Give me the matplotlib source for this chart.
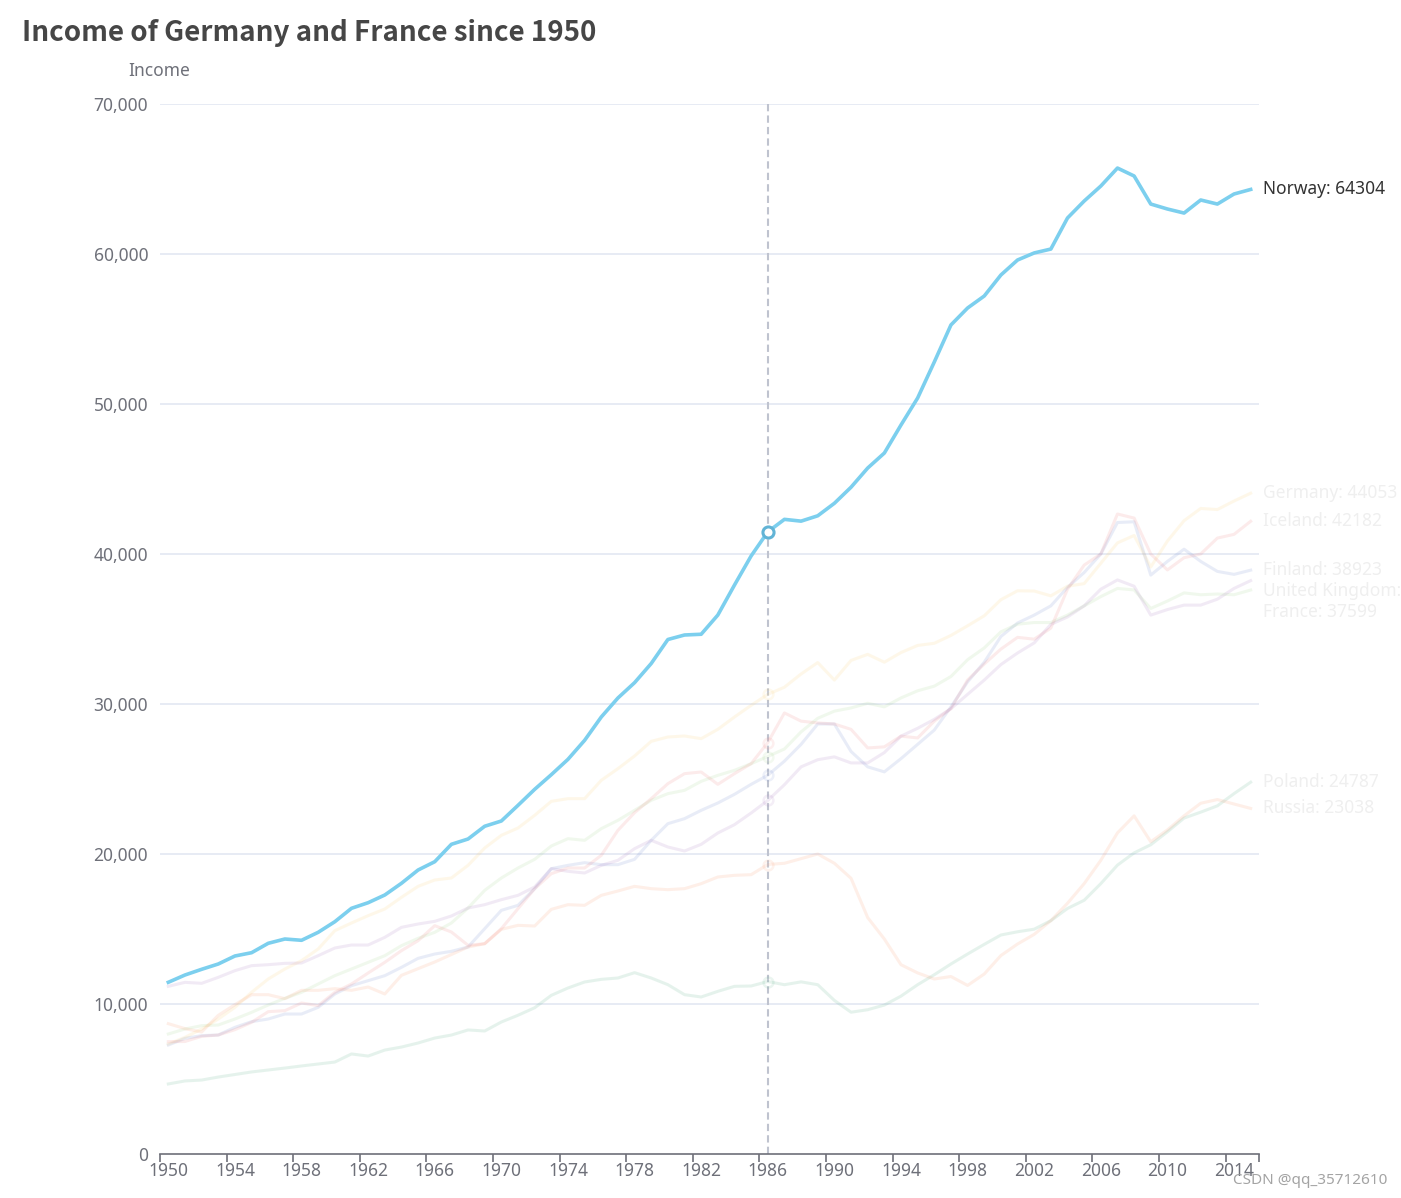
import matplotlib
matplotlib.use("Agg")
import matplotlib.pyplot as plt
import numpy as np

plt.rcParams['font.family'] = ['Noto Sans', 'DejaVu Sans']

years = list(range(1950, 2016))

norway = [11447, 11933, 12313, 12667, 13200, 13420, 14047, 14333, 14247, 14780,
          15487, 16380, 16753, 17267, 18047, 18933, 19487, 20647, 21000, 21850,
          22200, 23244, 24311, 25289, 26311, 27578, 29133, 30400, 31422, 32700,
          34300, 34600, 34650, 35930, 37930, 39870, 41476, 42310, 42190, 42548,
          43381, 44452, 45730, 46730, 48600, 50400, 52800, 55270, 56400, 57200,
          58600, 59600, 60070, 60330, 62400, 63530, 64530, 65730, 65200, 63330,
          63000, 62730, 63600, 63330, 64000, 64304]

germany = [7333, 7778, 8333, 9000, 9778, 10778, 11667, 12333, 12889, 13667,
           14889, 15400, 15889, 16333, 17111, 17844, 18267, 18400, 19245, 20400,
           21245, 21733, 22578, 23511, 23689, 23689, 24911, 25689, 26533, 27511,
           27800, 27867, 27689, 28311, 29133, 29911, 30643, 31119, 32000, 32762,
           31595, 32905, 33310, 32786, 33429, 33905, 34048, 34571, 35214, 35881,
           36952, 37548, 37531, 37210, 37852, 38025, 39383, 40741, 41235, 39136,
           40864, 42222, 43037, 42963, 43531, 44053]

iceland = [7489, 7500, 7844, 7933, 8289, 8778, 9489, 9556, 10067, 9889,
           10778, 11333, 12067, 12778, 13556, 14222, 15222, 14800, 13911, 14022,
           15022, 16356, 17689, 18689, 19067, 19067, 19911, 21578, 22756, 23689,
           24689, 25356, 25467, 24644, 25356, 26022, 27429, 29405, 28857, 28738,
           28667, 28310, 27071, 27143, 27857, 27738, 28857, 29690, 31595, 32667,
           33660, 34444, 34321, 35062, 37654, 39259, 40000, 42667, 42395, 40000,
           38938, 39753, 40000, 41062, 41309, 42182]

russia = [8689, 8356, 8133, 9244, 9956, 10622, 10622, 10356, 10911, 10911,
          11022, 10911, 11133, 10667, 11911, 12356, 12800, 13300, 13800, 14022,
          14978, 15244, 15200, 16311, 16622, 16578, 17244, 17533, 17844, 17689,
          17622, 17689, 18022, 18467, 18578, 18622, 19300, 19381, 19690, 20000,
          19381, 18381, 15762, 14333, 12619, 12071, 11667, 11833, 11238, 12000,
          13230, 14000, 14642, 15556, 16716, 18025, 19580, 21407, 22543, 20815,
          21605, 22543, 23383, 23630, 23333, 23038]

finland = [7267, 7711, 7889, 7933, 8444, 8822, 9000, 9333, 9333, 9778,
           10667, 11222, 11556, 11889, 12444, 13044, 13333, 13511, 13800, 15022,
           16244, 16578, 17689, 19022, 19244, 19422, 19289, 19289, 19644, 20911,
           22022, 22356, 22911, 23400, 23978, 24644, 25250, 26190, 27310, 28667,
           28667, 26833, 25810, 25476, 26357, 27310, 28262, 29810, 31476, 32786,
           34500, 35400, 35926, 36543, 37778, 38765, 40000, 42099, 42148, 38593,
           39506, 40321, 39506, 38840, 38642, 38923]

uk = [11178, 11444, 11378, 11778, 12222, 12556, 12622, 12711, 12733, 13222,
      13733, 13933, 13933, 14444, 15111, 15333, 15511, 15867, 16400, 16622,
      16956, 17244, 17800, 19022, 18845, 18733, 19244, 19578, 20356, 20911,
      20467, 20200, 20644, 21400, 21956, 22733, 23570, 24619, 25810, 26286,
      26476, 26071, 26071, 26762, 27857, 28381, 28976, 29690, 30643, 31595,
      32630, 33400, 34074, 35309, 35802, 36543, 37654, 38272, 37852, 35926,
      36296, 36593, 36593, 36988, 37704, 38225]

france = [8000, 8333, 8556, 8600, 9000, 9444, 9933, 10378, 10778, 11333,
          11889, 12333, 12778, 13222, 13889, 14378, 14778, 15400, 16400, 17578,
          18400, 19067, 19644, 20533, 21022, 20911, 21689, 22244, 22911, 23578,
          24022, 24244, 24844, 25244, 25578, 26022, 26500, 27000, 28143, 29048,
          29524, 29738, 30048, 29810, 30405, 30881, 31190, 31833, 32952, 33738,
          34810, 35320, 35432, 35432, 35926, 36543, 37160, 37704, 37605, 36370,
          36864, 37407, 37284, 37333, 37284, 37599]

poland = [4670, 4870, 4930, 5130, 5300, 5470, 5600, 5730, 5870, 6000,
          6130, 6670, 6530, 6930, 7130, 7400, 7730, 7930, 8270, 8200,
          8800, 9250, 9750, 10578, 11067, 11467, 11644, 11733, 12089, 11733,
          11289, 10622, 10467, 10844, 11178, 11200, 11500, 11286, 11476, 11286,
          10238, 9452, 9619, 9929, 10524, 11286, 11952, 12667, 13333, 13976,
          14600, 14815, 14988, 15556, 16370, 16914, 18025, 19259, 20074, 20617,
          21481, 22395, 22790, 23210, 24025, 24787]

countries = ['Finland', 'France', 'Germany', 'Iceland', 'Norway', 'Poland', 'Russia', 'United Kingdom']
series = [finland, france, germany, iceland, norway, poland, russia, uk]
colors = ['#5470c6', '#91cc75', '#fac858', '#ee6666', '#73c0de', '#3ba272', '#fc8452', '#9a60b4']
focus = 'Norway'
pointer_year = 1986

W, H = 1401, 1198
fig = plt.figure(figsize=(W / 100, H / 100), dpi=100)
L, R, T, B = 160, 1259, 104, 1154
ax = fig.add_axes([L / W, 1 - B / H, (R - L) / W, (B - T) / H])

x = np.arange(len(years))
ax.set_xlim(-0.5, len(years) - 0.5)
ax.set_ylim(0, 70000)

for s in ['top', 'right', 'left']:
    ax.spines[s].set_visible(False)
ax.spines['bottom'].set_color('#6e7079')
ax.spines['bottom'].set_linewidth(1.2)

yt = np.arange(0, 70001, 10000)
ax.set_yticks(yt)
ax.set_yticklabels([f"{v:,}" for v in yt])
ax.tick_params(axis='y', length=0, pad=8.5, labelsize=12.5, labelcolor='#6e7079')
for v in yt[1:]:
    ax.axhline(v, color='#e0e6f1', lw=1.1, zorder=0)

# x axis: ticks at band boundaries, labels at band centers
ax.set_xticks(np.append(np.arange(-0.5, len(years), 4), len(years) - 0.5))
ax.set_xticklabels([])
ax.tick_params(axis='x', which='major', length=6, width=1.2, color='#6e7079', direction='out')
ax.set_xticks(np.arange(0, len(years), 4), minor=True)
ax.set_xticklabels([str(years[i]) for i in range(0, len(years), 4)], minor=True)
ax.tick_params(axis='x', which='minor', length=0, pad=6, labelsize=12.5, labelcolor='#6e7079')

pi = years.index(pointer_year)
ax.axvline(pi, color='#bfc3cf', lw=1.5, ls=(0, (3.5, 2)), zorder=1)

for name, vals, c in zip(countries, series, colors):
    if name == focus:
        continue
    ax.plot(x, vals, color=c, lw=2.2, alpha=0.13, zorder=2, solid_joinstyle='round')
    ax.plot([pi], [vals[pi]], 'o', ms=7, mfc='white', mec=c, mew=1.8, alpha=0.1, zorder=2)

fi = countries.index(focus)
ax.plot(x, series[fi], color='#7ccfee', lw=2.6, zorder=4, solid_joinstyle='round')
ax.plot([pi], [series[fi][pi]], 'o', ms=8, mfc='white', mec='#62b4d6', mew=2.2, zorder=5)

# end labels with overlap shifting
order = sorted(range(len(countries)), key=lambda k: -series[k][-1])
prev = None
gap = 1400
for k in order:
    v = series[k][-1]
    ly = v if prev is None else min(v, prev - gap)
    prev = ly
    txt = f"{countries[k]}: {v}"
    if countries[k] == focus:
        ax.annotate(txt, (len(years) - 1, ly), xytext=(12, 0), textcoords='offset pixels',
                    va='center', ha='left', fontsize=12.5, color='#333333', annotation_clip=False, zorder=6)
    else:
        ax.annotate(txt, (len(years) - 1, ly), xytext=(12, 0), textcoords='offset pixels',
                    va='center', ha='left', fontsize=12.5, color='#333333', alpha=0.08,
                    annotation_clip=False, zorder=6)

fig.text(22 / W, 1 - 33 / H, 'Income of Germany and France since 1950', fontsize=20,
         fontweight='bold', color='#464646', ha='left', va='center',
         family=['Noto Sans CJK SC', 'DejaVu Sans'])
fig.text(159 / W, 1 - 71 / H, 'Income', fontsize=12.5, color='#6e7079', ha='center', va='center')
fig.text(1387 / W, 1 - 1180 / H, 'CSDN @qq_35712610', fontsize=11, color='#9a9a9a',
         ha='right', va='center', alpha=0.9)

fig.savefig('out.png', dpi=100)
